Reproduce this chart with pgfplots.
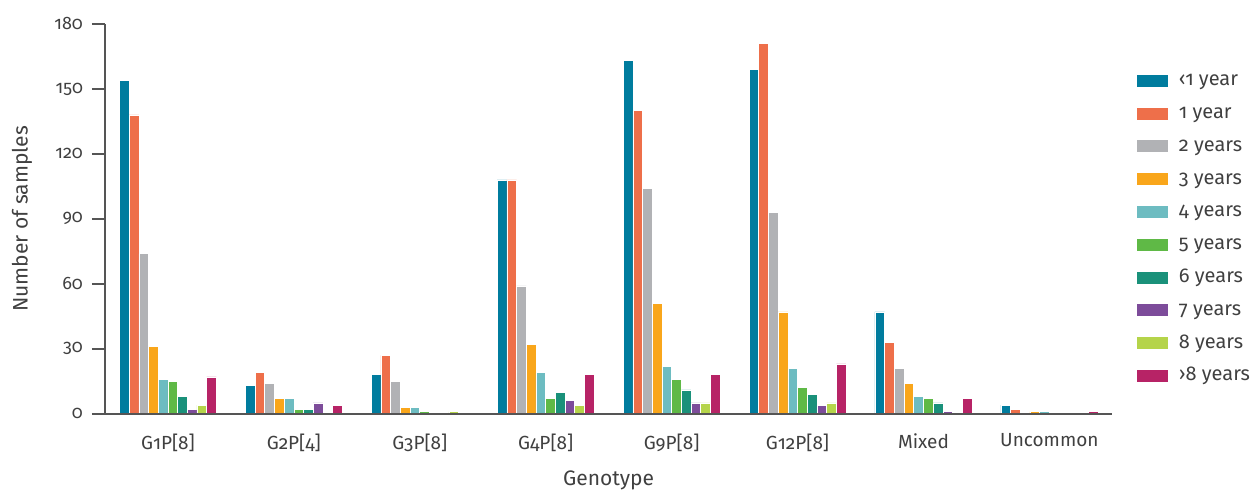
\documentclass[border=0pt]{standalone}
\usepackage{pgfplots}
\pgfplotsset{compat=1.18}
\usepackage{fontspec}
\setmainfont{Fira Sans}[Numbers=OldStyle]

\definecolor{c0}{HTML}{007C9E}
\definecolor{c1}{HTML}{EE6F4A}
\definecolor{c2}{HTML}{B1B2B5}
\definecolor{c3}{HTML}{F9A61B}
\definecolor{c4}{HTML}{6DBCC1}
\definecolor{c5}{HTML}{5FB946}
\definecolor{c6}{HTML}{1A917A}
\definecolor{c7}{HTML}{7D4C9A}
\definecolor{c8}{HTML}{B5D44A}
\definecolor{c9}{HTML}{B72366}
\definecolor{txt}{HTML}{404040}
\definecolor{axl}{HTML}{555555}

% columns: genotype index, then one column per age group
\pgfplotstableread{
x  a0  a1  a2  a3  a4  a5  a6  a7  a8  a9
0  154 138 74  31  16  15  8   2   4   17
1  13  19  14  7   7   2   2   5   0   4
2  18  27  15  3   3   1   0   0   1   0
3  108 108 59  32  19  7   10  6   4   18
4  163 140 104 51  22  16  11  5   5   18
5  159 171 93  47  21  12  9   4   5   23
6  47  33  21  14  8   7   5   1   0   7
7  4   2   0   1   1   0   0   0   0   1
}\samples

\begin{document}
\begin{tikzpicture}
\begin{axis}[
  scale only axis,
  width=504pt, height=195pt,
  xmin=-0.5, xmax=7.5,
  ymin=0, ymax=180,
  enlarge y limits=false,
  ybar=0pt,
  bar width=4.85pt,
  axis on top,
  axis lines*=left,
  axis line style={axl, line width=0.8pt},
  xtick={0,...,7},
  xticklabels={G1P[8],G2P[4],G3P[8],G4P[8],G9P[8],G12P[8],Mixed,Uncommon},
  x tick style={draw=none},
  ytick={0,30,...,180},
  y tick style={axl, line width=0.8pt},
  tick align=outside,
  major tick length=6.5pt,
  /pgf/number format/assume math mode=true,
  tick label style={text=txt},
  y tick label style={font=\fontsize{9}{10}\selectfont, xshift=-1pt},
  x tick label style={font=\fontsize{9.5}{11}\selectfont, yshift=0pt},
  xlabel={Genotype},
  ylabel={Number of samples},
  label style={font=\fontsize{10.5}{12}\selectfont, text=txt},
  x label style={at={(axis description cs:0.5,-0.17)}, anchor=center},
  y label style={at={(axis description cs:-0.0823,0.5)}, anchor=center, rotate=0},
  every axis plot/.append style={draw=white, line width=0.3pt},
  legend image code/.code={\fill[#1, draw=none] (0pt,-3pt) rectangle (15.5pt,3pt);
    \path[draw=none, fill=none] (0pt,0pt) -- (20pt,0pt);},
  legend style={at={(1.018,0.4756)}, anchor=west, draw=none, fill=none,
    font=\fontsize{10}{11}\selectfont, text=txt, row sep=5.4pt,
    nodes={text height=7pt, text depth=2pt, inner sep=1pt}},
  legend cell align=left,
  clip=false,
]
\addplot[fill=c0] table[x=x, y=a0] {\samples};
\addplot[fill=c1] table[x=x, y=a1] {\samples};
\addplot[fill=c2] table[x=x, y=a2] {\samples};
\addplot[fill=c3] table[x=x, y=a3] {\samples};
\addplot[fill=c4] table[x=x, y=a4] {\samples};
\addplot[fill=c5] table[x=x, y=a5] {\samples};
\addplot[fill=c6] table[x=x, y=a6] {\samples};
\addplot[fill=c7] table[x=x, y=a7] {\samples};
\addplot[fill=c8] table[x=x, y=a8] {\samples};
\addplot[fill=c9] table[x=x, y=a9] {\samples};
\legend{‹1 year, 1 year, 2 years, 3 years, 4 years, 5 years, 6 years, 7 years, 8 years, ›8 years}
\path (rel axis cs:-0.10417,-0.19231) rectangle (rel axis cs:1.14385,1.06154);
\end{axis}
\end{tikzpicture}
\end{document}
